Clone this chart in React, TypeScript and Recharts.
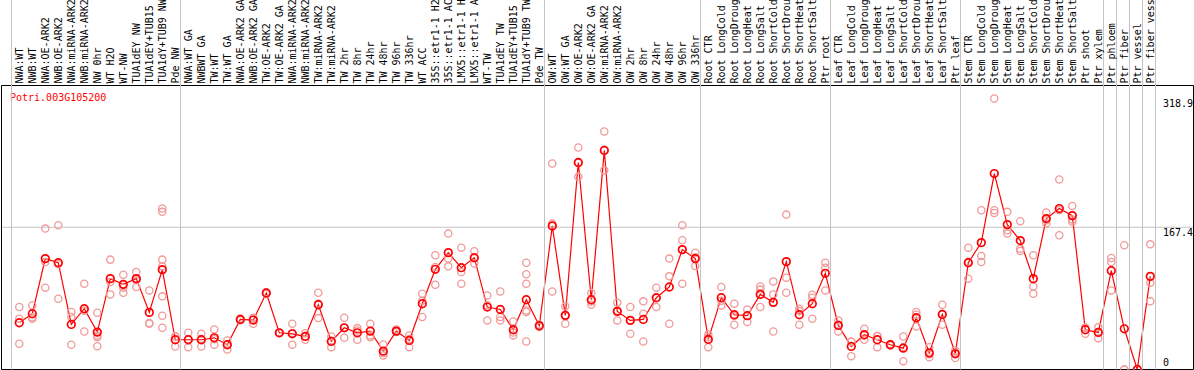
import React from 'react';
import { ComposedChart, Line, Scatter, XAxis, YAxis, ReferenceLine, Customized } from 'recharts';

const TITLE = 'Potri.003G105200';

const LABELS = [
  'NWA:WT', 'NWB:WT', 'NWA:OE-ARK2', 'NWB:OE-ARK2', 'NWA:miRNA-ARK2', 'NWB:miRNA-ARK2', 'NW 0hr', 'WT H2O', 'WT-NW',
  'TUA1dEY NW', 'TUA1dEY+TUB15', 'TUA1dY+TUB9 NW', 'Pde NW',
  'NWA:WT GA', 'NWBWT GA', 'TW:WT', 'TW:WT GA', 'NWA:OE-ARK2 GA', 'NWB:OE-ARK2 GA', 'TW:OE-ARK2', 'TW:OE-ARK2 GA',
  'NWA:miRNA-ARK2', 'NWB:miRNA-ARK2', 'TW:miRNA-ARK2', 'TW:miRNA-ARK2', 'TW 2hr', 'TW 8hr', 'TW 24hr', 'TW 48hr',
  'TW 96hr', 'TW 336hr', 'WT ACC', '35S::etr1-1 H2O', '35S::etr1-1 ACC', 'LMX5::etr1-1 H2O', 'LMX5::etr1-1 ACC',
  'WT-TW', 'TUA1dEY TW', 'TUA1dEY+TUB15', 'TUA1dY+TUB9 TW', 'Pde TW',
  'OW:WT', 'OW:WT GA', 'OW:OE-ARK2', 'OW:OE-ARK2 GA', 'OW:miRNA-ARK2', 'OW:miRNA-ARK2', 'OW 2hr', 'OW 8hr',
  'OW 24hr', 'OW 48hr', 'OW 96hr', 'OW 336hr',
  'Root CTR', 'Root LongCold', 'Root LongDrought', 'Root LongHeat', 'Root LongSalt', 'Root ShortCold',
  'Root ShortDrought', 'Root ShortHeat', 'Root ShortSalt', 'Ptr root',
  'Leaf CTR', 'Leaf LongCold', 'Leaf LongDrought', 'Leaf LongHeat', 'Leaf LongSalt', 'Leaf ShortCold',
  'Leaf ShortDrought', 'Leaf ShortHeat', 'Leaf ShortSalt', 'Ptr leaf',
  'Stem CTR', 'Stem LongCold', 'Stem LongDrought', 'Stem LongHeat', 'Stem LongSalt', 'Stem ShortCold',
  'Stem ShortDrought', 'Stem ShortHeat', 'Stem ShortSalt', 'Ptr shoot', 'Ptr xylem',
  'Ptr phloem', 'Ptr fiber', 'Ptr vessel', 'Ptr fiber vessel',
];

const MEANS = [
  55.0, 65.6, 130.5, 125.7, 53.0, 71.5, 44.0, 106.9, 100.2, 106.9, 67.2, 117.5, 35.0,
  35.0, 35.0, 37.3, 29.1, 58.9, 58.2, 90.0, 43.2, 42.0, 38.9, 76.2, 33.0, 49.1, 43.2, 45.2, 21.6,
  45.2, 34.2, 77.4, 117.9, 137.5, 119.8, 131.6, 73.5, 70.7, 46.8, 82.1, 51.5,
  169.0, 63.7, 243.6, 82.1, 257.8, 68.4, 57.8, 58.9, 84.5, 97.1, 141.1, 130.5,
  35.4, 84.5, 64.4, 63.3, 88.4, 79.0, 126.9, 64.4, 77.4, 113.2,
  51.9, 27.1, 40.9, 35.0, 29.1, 25.1, 60.9, 19.6, 64.8, 18.5,
  125.7, 149.3, 230.6, 170.5, 151.7, 106.9, 177.6, 189.4, 181.1, 46.8, 43.6,
  116.3, 47.9, 0, 109.6,
];

const REPLICATES = [
  [73.5, 59.7, 30.3], [75.4, 59.7, 61.5], [165.8, 126.5, 96.3], [169.7, 124, 83.3], [67.6, 61.7, 29.1],
  [101, 69, 44.8], [66.8, 40.1, 38.1, 27.5], [129.3, 103, 88.4], [111.6, 96.3, 90.4], [114.7, 104.9, 97],
  [93.1, 54.8, 53.8], [189.4, 185.5, 129.3, 121.4, 86.1, 63.3, 49.1], [38.9, 39, 27.1],
  [43.2, 35.5, 26.3], [42, 36, 27.1], [47.2, 35.6, 29.1], [34.2, 29.5, 23.6], [60, 58, 58.7],
  [60.9, 60, 53.8], [91, 90, 89], [43, 43, 43.5], [53.8, 43, 29.1], [42.8, 39, 35], [90.4, 77.7, 60.5],
  [38.9, 33.8, 26.3], [60.9, 49, 37.3], [48.7, 46, 35], [53.8, 40.1, 38.1], [29.5, 19, 16.5],
  [47.2, 44.4, 44], [40.1, 36, 26.3], [89.2, 81, 61.7], [134.4, 120.6, 99.8], [159.9, 130.5, 121.4],
  [143.4, 114.7, 101], [139.1, 131, 124.6], [87.2, 75.5, 57.8], [91.9, 61.7, 57.8], [56.6, 43.6, 40.1],
  [125.7, 112, 101, 69.5, 67.6, 33], [53, 51, 50],
  [242.4, 171.7, 91.9], [74.3, 63, 53.8], [261.3, 243, 226.7], [90, 80, 76.2], [280.2, 258.6, 234.6],
  [78.6, 69, 57.8], [73.5, 58, 42], [80.2, 65.6, 33], [96.3, 84, 73.5], [130.5, 109.6, 53.8],
  [169.7, 152.1, 101], [137.5, 132, 121.8],
  [41.3, 38, 26.3], [97.1, 81, 75.4], [77.4, 63, 52.7], [70.7, 63, 55.8], [97.8, 94, 73.5],
  [103.7, 88.4, 44.8], [182.3, 108.1, 90.4], [71.5, 69, 52.7], [88, 84.5, 59.7], [125.7, 119.8, 93.1],
  [57.8, 53, 44.8], [33, 32.6, 15.7], [47.9, 40, 35], [39.3, 39.4, 26.3], [30, 29, 28.3],
  [38.9, 26.6, 9.8], [67.6, 64.4, 50.7], [26.3, 18, 14.5], [76.2, 65.5, 52.7], [22.4, 19.7, 13.4],
  [143.4, 126.8, 106.9], [187.4, 133.6, 126.5], [318.9, 187.4, 184.3], [185.5, 163.9, 159.9],
  [174.5, 142.2, 139.5], [134.4, 97.8, 89.2], [184.7, 175.6, 172], [223.6, 187.4, 158],
  [192.5, 176.4, 174], [49.4, 49, 42], [49.9, 44, 36.9],
  [131.2, 126.5, 93.1], [146.2, 0, 0], [0, 0, 0], [147.3, 102.2, 80.2],
];

// index of the last sample in each group (-1 = line before the first sample)
const GROUP_ENDS = [-1, 12, 40, 52, 62, 72, 83, 84, 85, 86, 87];
const Y_TICKS = [0, 167.4, 318.9];
const Y_GRID = [167.4];

const FONT = "'DejaVu Sans Mono', monospace";
const GRID = '#c4c4c4';
const RED = '#ff0000';
const PINK = '#f09a9a';

const meanData = MEANS.map((y, i) => ({ x: i, y }));
const repData = REPLICATES.flatMap((arr, i) => arr.map((y) => ({ x: i, y })));
const catTicks = LABELS.map((_, i) => i);
const sepTicks = GROUP_ENDS.map((i) => i + 0.4);

const X_DOMAIN: [number, number] = [-1.369, 90.323];
const Y_DOMAIN: [number, number] = [0, 334.2];

const CatTick = (props: any) => {
  const { x, y, payload } = props;
  const bx = x + 4;
  return (
    <text
      x={bx}
      y={y}
      transform={`rotate(-90 ${bx} ${y})`}
      textAnchor="start"
      fontFamily={FONT}
      fontSize={10}
      fill="#000"
    >
      {LABELS[payload.value]}
    </text>
  );
};

const YTick = (props: any) => {
  const { x, y, payload } = props;
  return (
    <text x={x - 30.5} y={Math.min(y + 8.5, 366)} textAnchor="start" fontFamily={FONT} fontSize={10} fill="#000">
      {payload.value}
    </text>
  );
};

const Ring = ({ cx, cy, color, w, r }: any) => {
  if (cx == null || cy == null) return null;
  return <circle cx={cx} cy={cy} r={r} fill="none" stroke={color} strokeWidth={w} />;
};

const Title = () => (
  <text x={10} y={100.5} fontFamily={FONT} fontSize={10} fill={RED}>
    {TITLE}
  </text>
);

export default function App() {
  return (
    <div style={{ position: 'absolute', left: 0, top: 0, background: '#fff' }}>
      <ComposedChart width={1194} height={370} margin={{ top: 0, right: 0.5, bottom: 0.5, left: 1.5 }}>
        <XAxis
          xAxisId="cat"
          orientation="top"
          type="number"
          dataKey="x"
          domain={X_DOMAIN}
          allowDataOverflow
          ticks={catTicks}
          interval={0}
          tick={<CatTick />}
          tickLine={false}
          tickSize={0}
          tickMargin={2}
          axisLine={{ stroke: '#000', strokeWidth: 1 }}
          height={85.5}
        />
        <XAxis
          xAxisId="sep"
          orientation="bottom"
          mirror
          type="number"
          dataKey="x"
          domain={X_DOMAIN}
          allowDataOverflow
          ticks={sepTicks}
          interval={0}
          tick={() => <g />}
          tickLine={{ stroke: GRID, strokeWidth: 1 }}
          tickSize={372}
          axisLine={{ stroke: '#000', strokeWidth: 1 }}
        />
        <YAxis
          yAxisId="l"
          orientation="left"
          mirror
          type="number"
          dataKey="y"
          domain={Y_DOMAIN}
          allowDataOverflow
          tick={false}
          tickLine={false}
          axisLine={{ stroke: '#000', strokeWidth: 1 }}
        />
        <YAxis
          yAxisId="r"
          orientation="right"
          mirror
          type="number"
          dataKey="y"
          domain={Y_DOMAIN}
          allowDataOverflow
          ticks={Y_TICKS}
          interval={0}
          tick={<YTick />}
          tickLine={false}
          tickSize={0}
          tickMargin={0}
          axisLine={{ stroke: '#000', strokeWidth: 1 }}
        />
        {Y_GRID.map((g) => (
          <ReferenceLine key={'h' + g} y={g} xAxisId="cat" yAxisId="l" stroke={GRID} strokeWidth={1} />
        ))}
        <Scatter
          xAxisId="cat"
          yAxisId="l"
          data={repData}
          dataKey="y"
          isAnimationActive={false}
          shape={(p: any) => <Ring cx={p.cx} cy={p.cy} color={PINK} w={1.3} r={3.6} />}
        />
        <Line
          xAxisId="cat"
          yAxisId="l"
          data={meanData}
          dataKey="y"
          type="linear"
          stroke={RED}
          strokeWidth={1.2}
          isAnimationActive={false}
          dot={(p: any) => <Ring key={'m' + p.index} cx={p.cx} cy={p.cy} color={RED} w={1.7} r={3.8} />}
          activeDot={false}
        />
        <Customized component={Title} />
      </ComposedChart>
    </div>
  );
}
